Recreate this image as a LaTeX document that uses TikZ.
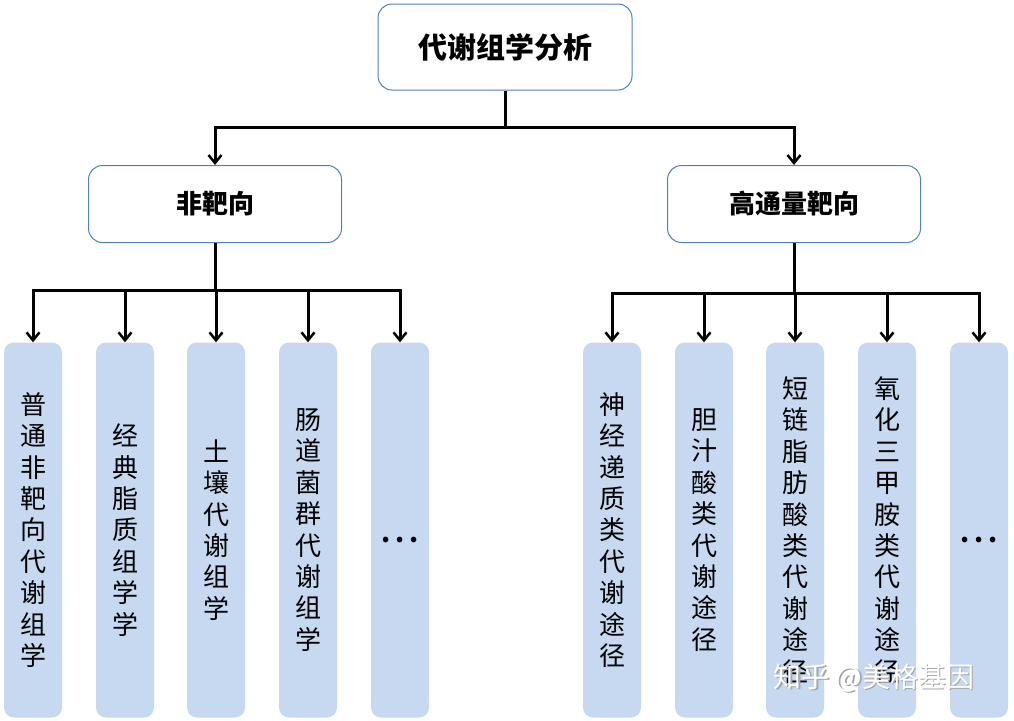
\documentclass[tikz,border=0pt]{standalone}
\usepackage{fontspec}
\setmainfont{Noto Sans CJK SC}
\usetikzlibrary{arrows.meta}
\definecolor{boxline}{HTML}{4F81BD}
\definecolor{leaffill}{HTML}{C6D9F1}
\tikzset{
  line/.style={line width=3pt},
  arr/.style={line width=3pt,-{Straight Barb[length=8pt,width=13pt,line width=2.5pt]}},
}
\newcommand{\leafdots}{\raisebox{-12pt}[0pt][0pt]{\bfseries .\hspace{5pt}.\hspace{5pt}.}}
\begin{document}
\begin{tikzpicture}[x=1pt,y=-1pt]
            \useasboundingbox[fill=white] (0,0) rectangle (1014,720);

            \begin{scope}[every node/.style={draw=boxline,line width=1pt,fill=white,rounded corners=14pt,font=\bfseries\fontsize{26}{30}\selectfont}]
                \node (top)[minimum width=254pt,minimum height=86pt,font=\bfseries\fontsize{29}{34}\selectfont] at (505,47) {代谢组学分析};
                \node (non)[minimum width=253pt,minimum height=77pt] at (215,204) {非靶向};
                \node (tgt)[minimum width=253pt,minimum height=77pt] at (794,204) {高通量靶向};
            \end{scope}

            \begin{scope}[every node/.style={fill=leaffill,rounded corners=10pt,minimum width=58pt,minimum height=375pt,inner sep=0pt,align=center,font=\fontsize{26}{31.4}\selectfont}]
                \node (l1) at (33,530) {普\\通\\非\\靶\\向\\代\\谢\\组\\学};
                \node (l2) at (125,530) {经\\典\\脂\\质\\组\\学\\学};
                \node (l3) at (216,530) {土\\壤\\代\\谢\\组\\学};
                \node (l4) at (308,530) {肠\\道\\菌\\群\\代\\谢\\组\\学};
                \node (l5) at (400,530) {\leafdots};
                \node (r1) at (612,530) {神\\经\\递\\质\\类\\代\\谢\\途\\径};
                \node (r2) at (704,530) {胆\\汁\\酸\\类\\代\\谢\\途\\径};
                \node (r3) at (795,530) {短\\链\\脂\\肪\\酸\\类\\代\\谢\\途\\径};
                \node (r4) at (887,530) {氧\\化\\三\\甲\\胺\\类\\代\\谢\\途\\径};
                \node (r5) at (979,530) {\leafdots};
            \end{scope}

            \coordinate (j0) at (505,127);
            \coordinate (j1) at (215,290);
            \coordinate (j2) at (794,293);

            \begin{scope}
                \draw [line] (top.south) -- (j0);
                \draw [arr] (j0) -| (non.north);
                \draw [arr] (j0) -| (tgt.north);
                \draw [line] (non.south) -- (j1);
                \draw [line] (tgt.south) -- (j2);
                \foreach \n in {l1,l2,l3,l4,l5}
                    \draw [arr] (j1) -| (\n.north);
                \foreach \n in {r1,r2,r3,r4,r5}
                    \draw [arr] (j2) -| (\n.north);
            \end{scope}

            % watermark
            \node (wms)[text=gray!70,font=\fontsize{28}{32}\selectfont] at (875.5,679.5) {知乎 @美格基因};
            \node (wm)[text=white,font=\fontsize{28}{32}\selectfont] at (874,678) {知乎 @美格基因};
\end{tikzpicture}
\end{document}
